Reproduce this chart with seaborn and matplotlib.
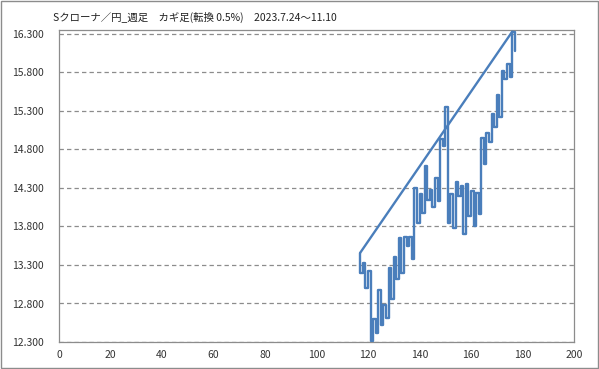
import numpy as np
import pandas as pd
import matplotlib
matplotlib.use("Agg")
import matplotlib.pyplot as plt
import seaborn as sns

sns.set_style("white")
plt.rcParams['font.family'] = ['Noto Sans CJK JP', 'DejaVu Sans']

title = "Sクローナ／円_週足　カギ足(転換 0.5%)　2023.7.24～11.10"

# kagi turning points (start price, then each reversal)
kagi_start = 13.46
kagi_vals = [13.19, 13.33, 13.00, 13.22, 12.31, 12.60, 12.42, 12.97, 12.52, 12.78,
             12.61, 13.26, 12.86, 13.41, 13.12, 13.65, 13.20, 13.67, 13.55, 13.66,
             13.38, 14.30, 13.84, 14.22, 13.97, 14.58, 14.15, 14.27, 14.05, 14.43,
             14.13, 14.94, 14.85, 15.35, 13.85, 14.22, 13.78, 14.38, 14.19, 14.32,
             13.70, 14.35, 13.94, 14.26, 13.80, 14.23, 13.96, 14.95, 14.61, 15.01,
             14.90, 15.26, 15.09, 15.51, 15.22, 15.82, 15.71, 15.91, 15.74, 16.33,
             16.08]
kagi_x = list(range(117, 117 + len(kagi_vals)))

yticks = [12.3, 12.8, 13.3, 13.8, 14.3, 14.8, 15.3, 15.8, 16.3]
xticks = [0, 20, 40, 60, 80, 100, 120, 140, 160, 180, 200]

# build the kagi path: vertical at each x, then a 1-step horizontal
px, py = [kagi_x[0]], [kagi_start]
for i, v in enumerate(kagi_vals):
    px.append(kagi_x[i]); py.append(v)
    if i < len(kagi_vals) - 1:
        px.append(kagi_x[i + 1]); py.append(v)
path = pd.DataFrame({'x': px, 'y': py})

imax = int(np.argmax(kagi_vals))
trend = pd.DataFrame({'x': [kagi_x[0], kagi_x[imax]], 'y': [kagi_start, kagi_vals[imax]]})

blue = '#4a7ebb'
grey = '#8c8c8c'

fig = plt.figure(figsize=(5.99, 3.69), dpi=100)
ax = fig.add_axes([59 / 599, 1 - 342 / 369, (574 - 59) / 599, (342 - 30) / 369])

for y in yticks:
    ax.axhline(y, color=grey, lw=0.9, ls=(0, (3.5, 2.5)), zorder=1)

sns.lineplot(data=path, x='x', y='y', sort=False, estimator=None, color=blue,
             lw=1.7, ax=ax, zorder=3)
sns.lineplot(data=trend, x='x', y='y', sort=False, estimator=None, color=blue,
             lw=1.7, ax=ax, zorder=3)

ax.set_xlim(0, 200)
ax.set_ylim(12.3, 16.3 + 4 / 77)
ax.set_xticks(xticks)
ax.set_yticks(yticks)
ax.set_yticklabels([f"{v:.3f}" for v in yticks])
ax.set_xlabel('')
ax.set_ylabel('')
ax.tick_params(axis='y', direction='out', length=4, width=0.8, color=grey,
               labelsize=7.5, pad=7, labelcolor='#333333')
ax.tick_params(axis='x', direction='in', length=4, width=0.8, color=grey,
               labelsize=7.5, pad=6, labelcolor='#333333')
for s in ax.spines.values():
    s.set_color(grey)
    s.set_linewidth(0.9)

fig.text(53 / 599, 1 - 17 / 369, title, fontsize=7.5, va='center', ha='left', color='#222222')

# outer chart border
fig.patches.append(plt.Rectangle((0.001, 0.002), 0.997, 0.995, transform=fig.transFigure,
                                 fill=False, edgecolor=grey, lw=1))

fig.savefig('out.png', dpi=100)
